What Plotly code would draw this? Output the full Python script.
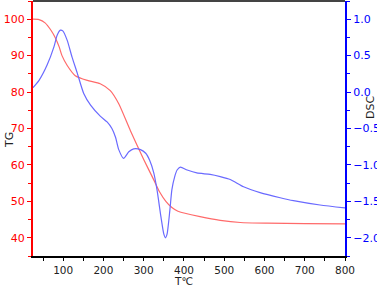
import plotly.graph_objects as go

# TG curve (red)
tg_t = [25, 40, 55, 70, 80, 90, 97, 110, 130, 160, 192, 217, 238, 267, 300, 325, 340, 355, 370, 385, 400, 440, 490, 540, 606, 700, 800]
tg_v = [100, 99.9, 99.0, 96.9, 95.0, 92.4, 90.0, 87.3, 84.5, 83.2, 82.3, 80.4, 76.8, 69.4, 61.5, 55.9, 52.5, 50.0, 48.3, 47.3, 46.8, 45.8, 44.8, 44.2, 44.0, 43.9, 43.8]

# DSC curve (blue)
dsc_t = [25, 40, 60, 77, 85, 93, 99, 110, 122, 135, 151, 168, 192, 209, 221, 230, 238, 250, 263, 275, 292, 305, 315, 325, 333, 343, 350, 354, 358, 365, 370, 377, 383, 391, 408, 432, 465, 490, 515, 548, 589, 639, 672, 738, 800]
dsc_v = [0.06, 0.16, 0.37, 0.62, 0.78, 0.85, 0.84, 0.71, 0.48, 0.26, -0.02, -0.18, -0.33, -0.41, -0.50, -0.62, -0.79, -0.91, -0.82, -0.78, -0.79, -0.84, -0.94, -1.11, -1.34, -1.72, -1.95, -2.0, -1.95, -1.62, -1.34, -1.16, -1.07, -1.03, -1.07, -1.11, -1.13, -1.16, -1.20, -1.30, -1.38, -1.45, -1.49, -1.55, -1.59]

x_ticks = [100, 200, 300, 400, 500, 600, 700, 800]
tg_ticks = [40, 50, 60, 70, 80, 90, 100]
dsc_ticks = [-2.0, -1.5, -1.0, -0.5, 0.0, 0.5, 1.0]

font = "DejaVu Sans"

fig = go.Figure()
fig.add_trace(go.Scatter(x=tg_t, y=tg_v, mode="lines", line=dict(color="#ff6a6a", width=1.2, shape="spline", smoothing=0.6), yaxis="y", showlegend=False))
fig.add_trace(go.Scatter(x=dsc_t, y=dsc_v, mode="lines", line=dict(color="#6a6aff", width=1.2, shape="spline", smoothing=0.6), yaxis="y2", showlegend=False))

fig.update_layout(
    width=377, height=287,
    margin=dict(l=33, r=32, t=1, b=31),
    paper_bgcolor="white", plot_bgcolor="white",
    font=dict(family=font, size=11, color="black"),
    xaxis=dict(range=[25, 800], tickvals=x_ticks, ticks="outside", ticklen=3, tickwidth=1, tickcolor="black",
               showline=True, linecolor="black", linewidth=2, showgrid=False, zeroline=False, automargin=False,
               minor=dict(dtick=50, tick0=0, ticks="outside", ticklen=3, tickcolor="black", showgrid=False),
               tickfont=dict(size=10.5, color="#222")),
    yaxis=dict(range=[35, 105], tickvals=tg_ticks, ticks="outside", ticklen=4, tickwidth=1, tickcolor="red",
               showline=True, linecolor="red", linewidth=2, showgrid=False, zeroline=False, automargin=False,
               minor=dict(dtick=5, tick0=0, ticks="outside", ticklen=3, tickcolor="red", showgrid=False),
               tickfont=dict(size=11, color="red")),
    yaxis2=dict(range=[-2.25, 1.25], tickvals=dsc_ticks, tickformat=".1f", overlaying="y", side="right",
                ticks="outside", ticklen=4, tickwidth=1, tickcolor="blue", automargin=False,
                showline=True, linecolor="blue", linewidth=2, showgrid=False, zeroline=False,
                minor=dict(dtick=0.25, tick0=0, ticks="outside", ticklen=3, tickcolor="blue", showgrid=False),
                tickfont=dict(size=11, color="blue")),
    shapes=[dict(type="line", xref="paper", yref="paper", x0=0, x1=1, y0=1, y1=1, line=dict(color="#444", width=2))],
    annotations=[
        dict(text="T℃", xref="paper", yref="paper", x=(183 - 33) / 312, y=-(281 - 256) / 255,
             xanchor="center", yanchor="middle", showarrow=False, font=dict(size=10.5, color="#222")),
        dict(text="TG", xref="paper", yref="paper", x=-(33 - 9) / 312, y=(256 - 140) / 255,
             xanchor="center", yanchor="middle", showarrow=False, textangle=-90, font=dict(size=11, color="#222")),
        dict(text="DSC", xref="paper", yref="paper", x=(371 - 33) / 312, y=(256 - 108) / 255,
             xanchor="center", yanchor="middle", showarrow=False, textangle=-90, font=dict(size=11, color="#222")),
    ],
)

fig.write_html("out.html", config={"displayModeBar": False}, post_script="document.body.style.margin='0';")
